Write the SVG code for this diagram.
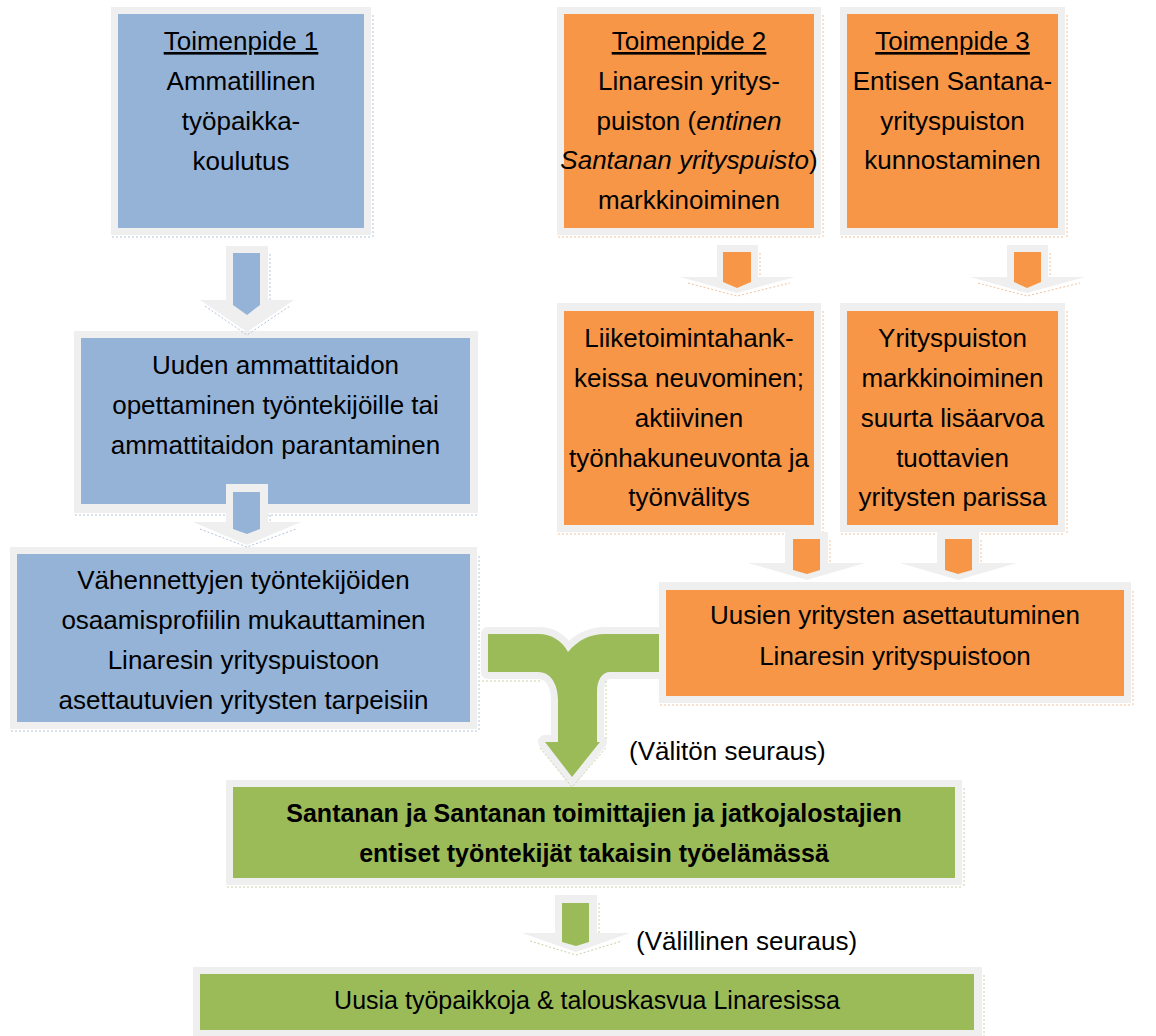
<svg xmlns="http://www.w3.org/2000/svg" width="1156" height="1036" viewBox="0 0 1156 1036">
<style>
.frame{fill:#efefef}
.blue{fill:#95b3d7}
.orange{fill:#f79646}
.green{fill:#9bbb59}
.t{font-family:"Liberation Sans",Arial,sans-serif;font-size:26px;fill:#000;text-anchor:middle}
.b{font-weight:bold;font-size:25px}
.u{text-decoration:underline}
.i{font-style:italic}
.db{fill:none;stroke:#b4c4da;stroke-width:1;stroke-dasharray:2 2}
.do{fill:none;stroke:#f2c29c;stroke-width:1;stroke-dasharray:2 2}
.dg{fill:none;stroke:#c4d4a2;stroke-width:1;stroke-dasharray:2 2}
.ga{fill:#efefef}
</style>
<rect width="1156" height="1036" fill="#ffffff"/>

<g id="box1">
<rect class="frame" x="111" y="7" width="260" height="228"/>
<rect class="blue" x="118" y="14" width="246" height="214"/>
<polyline class="db" points="112,237 371,237"/><polyline class="db" points="373,15 373,238"/>
<text class="t"><tspan class="u" x="241" y="50">Toimenpide 1</tspan><tspan x="241" y="90">Ammatillinen</tspan><tspan x="241" y="130">työpaikka-</tspan><tspan x="241" y="170">koulutus</tspan></text>
</g>

<g id="box2">
<rect class="frame" x="557" y="7" width="264" height="228"/>
<rect class="orange" x="564" y="14" width="250" height="214"/>
<polyline class="do" points="558,237 821,237"/><polyline class="do" points="823,15 823,238"/>
<text class="t"><tspan class="u" x="689" y="50">Toimenpide 2</tspan><tspan x="689" y="90">Linaresin yritys-</tspan><tspan x="689" y="130">puiston (<tspan class="i">entinen</tspan></tspan><tspan x="689" y="169"><tspan class="i">Santanan yrityspuisto</tspan>)</tspan><tspan x="689" y="209">markkinoiminen</tspan></text>
</g>

<g id="box3">
<rect class="frame" x="840" y="7" width="225" height="228"/>
<rect class="orange" x="847" y="14" width="211" height="214"/>
<polyline class="do" points="841,237 1065,237"/><polyline class="do" points="1067,15 1067,238"/>
<text class="t"><tspan class="u" x="952.5" y="50">Toimenpide 3</tspan><tspan x="952.5" y="90">Entisen Santana-</tspan><tspan x="952.5" y="130">yrityspuiston</tspan><tspan x="952.5" y="169">kunnostaminen</tspan></text>
</g>

<g id="box4">
<rect class="frame" x="557" y="303" width="264" height="229"/>
<rect class="orange" x="564" y="311" width="250" height="214"/>
<polyline class="do" points="558,534 821,534"/><polyline class="do" points="823,311 823,535"/>
<text class="t"><tspan x="689" y="347">Liiketoimintahank-</tspan><tspan x="689" y="387">keissa neuvominen;</tspan><tspan x="689" y="427">aktiivinen</tspan><tspan x="689" y="467">työnhakuneuvonta ja</tspan><tspan x="689" y="506">työnvälitys</tspan></text>
</g>

<g id="box5">
<rect class="frame" x="840" y="303" width="225" height="229"/>
<rect class="orange" x="847" y="311" width="211" height="214"/>
<polyline class="do" points="841,534 1065,534"/><polyline class="do" points="1067,311 1067,535"/>
<text class="t"><tspan x="952.5" y="347">Yrityspuiston</tspan><tspan x="952.5" y="387">markkinoiminen</tspan><tspan x="952.5" y="427">suurta lisäarvoa</tspan><tspan x="952.5" y="467">tuottavien</tspan><tspan x="952.5" y="506">yritysten parissa</tspan></text>
</g>

<g id="box6">
<rect class="frame" x="74" y="331" width="404" height="182"/>
<rect class="blue" x="81" y="338" width="389" height="166"/>
<polyline class="db" points="75,515 478,515"/>
<text class="t"><tspan x="275.5" y="374">Uuden ammattitaidon</tspan><tspan x="275.5" y="414">opettaminen työntekijöille tai</tspan><tspan x="275.5" y="454">ammattitaidon parantaminen</tspan></text>
</g>

<g id="box7">
<rect class="frame" x="10" y="547" width="467" height="182"/>
<rect class="blue" x="17" y="554" width="453" height="168"/>
<polyline class="db" points="11,731 477,731"/><polyline class="db" points="479,556 479,732"/>
<text class="t"><tspan x="243.5" y="589">Vähennettyjen työntekijöiden</tspan><tspan x="243.5" y="629">osaamisprofiilin mukauttaminen</tspan><tspan x="243.5" y="669">Linaresin yrityspuistoon</tspan><tspan x="243.5" y="709">asettautuvien yritysten tarpeisiin</tspan></text>
</g>

<g id="box8">
<rect class="frame" x="659" y="582" width="472" height="121"/>
<rect class="orange" x="666" y="590" width="458" height="106"/>
<polyline class="do" points="660,705 1132,705"/><polyline class="do" points="1133,591 1133,706"/>
<text class="t"><tspan x="895" y="624">Uusien yritysten asettautuminen</tspan><tspan x="895" y="665">Linaresin yrityspuistoon</tspan></text>
</g>

<g id="box9">
<rect class="frame" x="226" y="780" width="736" height="105"/>
<rect class="green" x="233" y="787" width="722" height="91"/>
<polyline class="dg" points="227,887 962,887"/><polyline class="dg" points="964,788 964,888"/>
<text class="t b"><tspan x="594" y="822">Santanan ja Santanan toimittajien ja jatkojalostajien</tspan><tspan x="594" y="862">entiset työntekijät takaisin työelämässä</tspan></text>
</g>

<g id="box10">
<rect class="frame" x="193" y="967" width="789" height="69"/>
<rect class="green" x="200" y="974" width="774" height="56"/>
<polyline class="dg" points="984,975 984,1036"/>
<text class="t" style="font-size:25px"><tspan x="587" y="1009">Uusia työpaikkoja &amp; talouskasvua Linaresissa</tspan></text>
</g>

<g id="connectors">
<!-- blue arrow 1 -->
<polygon class="ga" points="226,246 268,246 268,300 294,300 247,332 200,300 226,300"/>
<polyline class="db" points="270,254 270,300"/><polyline class="db" points="205,306 247,335 290,306"/>
<polygon class="blue" points="233,253 260,253 260,305 247,315 233,305"/>
<!-- blue arrow 2 -->
<polygon class="ga" points="226,484 268,484 268,522 301,522 247,545 193,522 226,522"/>
<polyline class="db" points="270,515 270,522"/><polyline class="db" points="200,529 247,547 296,529"/>
<polygon class="blue" points="233,492 260,492 260,529 247,534 233,529"/>
<!-- orange arrows -->
<polygon class="ga" points="717,245 758,245 758,277 795,277 737,293 680,277 717,277"/>
<polyline class="do" points="760,253 760,277"/><polyline class="do" points="688,283 737,296 790,283"/>
<polygon class="orange" points="723,252 751,252 751,282 737,288 723,282"/>
<polygon class="ga" points="1007,245 1048,245 1048,277 1085,277 1027,293 970,277 1007,277"/>
<polyline class="do" points="1050,253 1050,277"/><polyline class="do" points="978,283 1027,296 1080,283"/>
<polygon class="orange" points="1014,252 1041,252 1041,282 1027,288 1014,282"/>
<polygon class="ga" points="785,532 828,532 828,563 865,563 807,580 748,563 785,563"/>
<polyline class="do" points="830,540 830,563"/>
<polygon class="orange" points="793,539 820,539 820,570 807,574 793,570"/>
<polygon class="ga" points="937,532 979,532 979,563 1017,563 958,580 900,563 937,563"/>
<polyline class="do" points="981,540 981,563"/>
<polygon class="orange" points="945,539 972,539 972,570 958,574 945,570"/>
<!-- big merging green arrow -->
<path d="M488,634 L538,634 C552,634 562,641 568,652 C578,640 590,634 605,634 L659,634 L659,672 L610,672 C602,672 597,680 597,692 L597,742 L600,742 L572,777 L545,742 L558,742 L558,700 C558,688 553,672 538,672 L488,672 Z" fill="#efefef" stroke="#efefef" stroke-width="14" stroke-linejoin="round"/>
<polyline class="dg" points="482,681 540,681"/><polyline class="dg" points="606,681 606,740"/><polyline class="dg" points="540,748 572,787 606,748"/>
<path class="green" d="M488,634 L538,634 C552,634 562,641 568,652 C578,640 590,634 605,634 L659,634 L659,672 L610,672 C602,672 597,680 597,692 L597,742 L600,742 L572,777 L545,742 L558,742 L558,700 C558,688 553,672 538,672 L488,672 Z"/>
<!-- small green arrow -->
<polygon class="ga" points="555,895 597,895 597,933 630,933 576,952 522,933 555,933"/>
<polyline class="dg" points="599,903 599,933"/><polyline class="dg" points="530,941 576,955 622,941"/>
<polygon class="green" points="562,903 589,903 589,942 576,946 562,942"/>
<text class="t" x="629" y="760" style="text-anchor:start">(Välitön seuraus)</text>
<text class="t" x="636" y="950" style="text-anchor:start">(Välillinen seuraus)</text>
</g>
</svg>
